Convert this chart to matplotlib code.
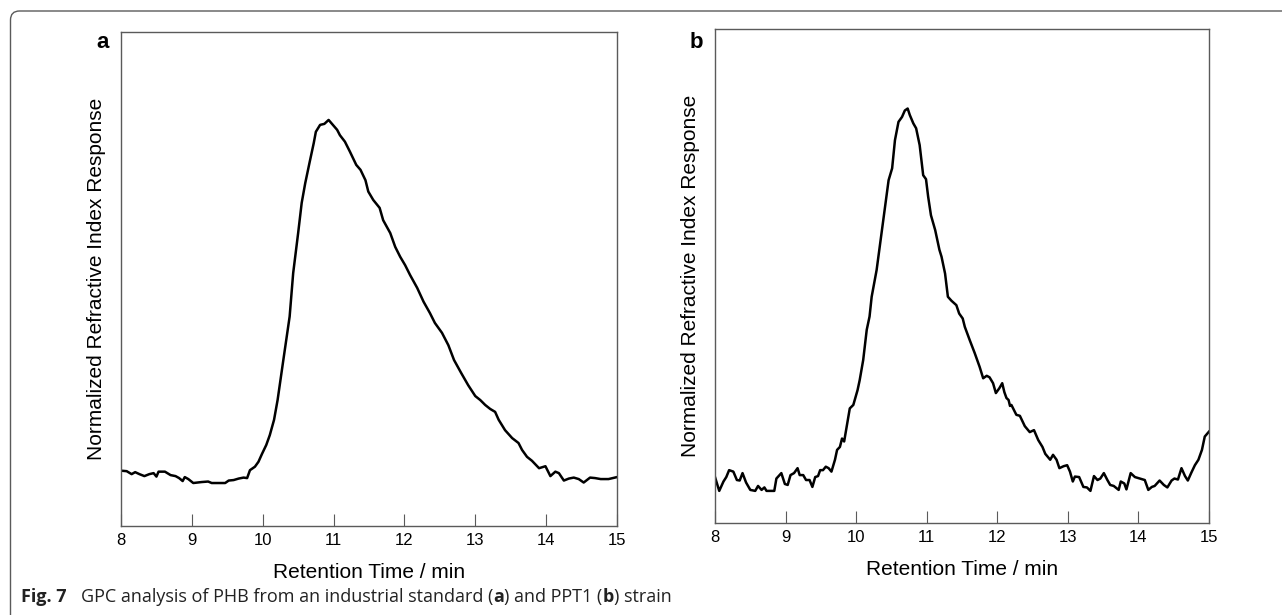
import numpy as np
import matplotlib
matplotlib.use("Agg")
import matplotlib.pyplot as plt
from matplotlib.path import Path
from matplotlib.patches import PathPatch

plt.rcParams['font.family'] = ['Liberation Sans', 'DejaVu Sans']

# Panel a: industrial PHB standard (time in min, normalized RI response)
time_a = [8.00, 8.08, 8.15, 8.20, 8.26, 8.33, 8.40, 8.46, 8.50, 8.53, 8.62, 8.70,
          8.77, 8.82, 8.87, 8.90, 8.95, 9.02, 9.14, 9.23, 9.28, 9.47, 9.52, 9.59,
          9.66, 9.73, 9.78, 9.82, 9.89, 9.94, 9.99, 10.05, 10.10, 10.16, 10.21, 10.29,
          10.38, 10.43, 10.50, 10.55, 10.60, 10.66, 10.72, 10.75, 10.81, 10.87, 10.93, 10.99,
          11.05, 11.09, 11.16, 11.23, 11.32, 11.38, 11.45, 11.49, 11.56, 11.65, 11.70, 11.80,
          11.87, 11.94, 12.01, 12.08, 12.18, 12.27, 12.36, 12.43, 12.53, 12.62, 12.70, 12.80,
          12.90, 13.00, 13.07, 13.14, 13.21, 13.28, 13.33, 13.42, 13.52, 13.61, 13.66, 13.73,
          13.80, 13.90, 13.99, 14.06, 14.13, 14.18, 14.25, 14.32, 14.39, 14.46, 14.53, 14.62,
          14.69, 14.77, 14.88, 15.00]
resp_a = [0.112, 0.111, 0.105, 0.109, 0.105, 0.101, 0.105, 0.107, 0.100, 0.110, 0.110, 0.103,
          0.101, 0.097, 0.091, 0.099, 0.095, 0.087, 0.089, 0.090, 0.087, 0.087, 0.092, 0.093,
          0.096, 0.098, 0.097, 0.113, 0.120, 0.130, 0.146, 0.164, 0.184, 0.215, 0.255, 0.335,
          0.424, 0.512, 0.593, 0.654, 0.694, 0.735, 0.775, 0.798, 0.812, 0.814, 0.822, 0.812,
          0.802, 0.791, 0.778, 0.758, 0.731, 0.721, 0.700, 0.677, 0.660, 0.644, 0.619, 0.593,
          0.565, 0.545, 0.528, 0.508, 0.482, 0.454, 0.431, 0.411, 0.391, 0.366, 0.336, 0.310,
          0.285, 0.263, 0.255, 0.245, 0.237, 0.231, 0.215, 0.194, 0.178, 0.168, 0.154, 0.140,
          0.132, 0.117, 0.121, 0.101, 0.110, 0.107, 0.092, 0.096, 0.098, 0.095, 0.088, 0.098,
          0.097, 0.095, 0.095, 0.099]

# Panel b: PPT1 strain
time_b = [8.00, 8.06, 8.12, 8.16, 8.20, 8.26, 8.31, 8.35, 8.39, 8.44, 8.50, 8.57,
          8.61, 8.66, 8.70, 8.73, 8.84, 8.87, 8.94, 8.99, 9.03, 9.07, 9.12, 9.17,
          9.20, 9.25, 9.29, 9.34, 9.38, 9.42, 9.46, 9.49, 9.53, 9.57, 9.61, 9.65,
          9.70, 9.73, 9.77, 9.80, 9.83, 9.87, 9.91, 9.96, 10.02, 10.05, 10.10, 10.15,
          10.19, 10.22, 10.29, 10.34, 10.41, 10.46, 10.51, 10.55, 10.60, 10.65, 10.69, 10.73,
          10.76, 10.81, 10.85, 10.90, 10.93, 10.95, 10.99, 11.02, 11.06, 11.12, 11.18, 11.21,
          11.26, 11.30, 11.35, 11.42, 11.46, 11.51, 11.54, 11.61, 11.68, 11.75, 11.80, 11.85,
          11.89, 11.94, 11.98, 12.03, 12.07, 12.10, 12.13, 12.16, 12.18, 12.20, 12.27, 12.32,
          12.39, 12.46, 12.52, 12.58, 12.64, 12.68, 12.75, 12.79, 12.84, 12.88, 12.94, 12.99,
          13.03, 13.07, 13.10, 13.16, 13.22, 13.27, 13.32, 13.37, 13.42, 13.46, 13.51, 13.56,
          13.60, 13.65, 13.72, 13.75, 13.80, 13.83, 13.89, 13.95, 14.02, 14.09, 14.14, 14.19,
          14.23, 14.30, 14.36, 14.41, 14.47, 14.51, 14.56, 14.61, 14.66, 14.70, 14.75, 14.80,
          14.85, 14.90, 14.94, 15.00]
resp_b = [0.093, 0.065, 0.084, 0.093, 0.107, 0.104, 0.087, 0.086, 0.101, 0.082, 0.067, 0.065,
          0.075, 0.067, 0.072, 0.065, 0.065, 0.090, 0.101, 0.079, 0.077, 0.097, 0.101, 0.111,
          0.097, 0.097, 0.087, 0.087, 0.073, 0.093, 0.095, 0.107, 0.107, 0.114, 0.111, 0.104,
          0.128, 0.148, 0.154, 0.171, 0.165, 0.198, 0.232, 0.239, 0.269, 0.289, 0.330, 0.391,
          0.418, 0.458, 0.512, 0.566, 0.640, 0.694, 0.718, 0.775, 0.812, 0.822, 0.835, 0.839,
          0.826, 0.809, 0.799, 0.765, 0.728, 0.704, 0.696, 0.661, 0.623, 0.593, 0.553, 0.539,
          0.505, 0.458, 0.450, 0.441, 0.424, 0.414, 0.397, 0.370, 0.344, 0.316, 0.293, 0.298,
          0.295, 0.283, 0.263, 0.273, 0.283, 0.265, 0.253, 0.249, 0.237, 0.239, 0.219, 0.217,
          0.196, 0.184, 0.188, 0.168, 0.154, 0.140, 0.128, 0.138, 0.128, 0.111, 0.115, 0.117,
          0.104, 0.084, 0.094, 0.093, 0.073, 0.072, 0.065, 0.095, 0.087, 0.090, 0.101, 0.087,
          0.077, 0.075, 0.067, 0.084, 0.080, 0.068, 0.101, 0.093, 0.090, 0.087, 0.067, 0.073,
          0.075, 0.086, 0.077, 0.072, 0.086, 0.090, 0.088, 0.111, 0.095, 0.086, 0.102, 0.117,
          0.128, 0.148, 0.175, 0.185]

x_ticks = [8, 9, 10, 11, 12, 13, 14, 15]
x_label = "Retention Time / min"
y_label = "Normalized Refractive Index Response"

W, H = 1282, 615
fig = plt.figure(figsize=(W / 100, H / 100), dpi=100)

frame_col = '#5a5a5a'
panels = [
    ("a", time_a, resp_a, (121, 32, 617, 526)),
    ("b", time_b, resp_b, (715, 29, 1209, 523)),
]

for letter, t, r, (l, top, rgt, bot) in panels:
    ax = fig.add_axes([l / W, 1 - bot / H, (rgt - l) / W, (bot - top) / H])
    ax.plot(t, r, color='black', lw=1.8, solid_joinstyle='round')
    ax.set_xlim(8, 15)
    ax.set_ylim(0, 1)
    ax.set_xticks(x_ticks)
    ax.set_xticklabels([str(v) for v in x_ticks])
    ax.set_yticks([])
    ax.tick_params(axis='x', direction='in', length=8.5, width=0.8, color=frame_col,
                   labelsize=12, pad=5)
    for s in ax.spines.values():
        s.set_color(frame_col)
        s.set_linewidth(1.0)
    ax.set_xlabel(x_label, fontsize=15, labelpad=11)
    ax.set_ylabel(y_label, fontsize=15, labelpad=11)
    fig.text((l - 12) / W, 1 - 43 / H, letter, fontsize=16, fontweight='bold',
             ha='right', va='center')

# journal frame: left and top edges with rounded corner
x0, y1, rad = 10.5 / W, 1 - 11 / H, 9
verts = [(x0, 0), (x0, y1 - rad / H), (x0, y1), (x0 + rad / W, y1), (1.0, y1)]
codes = [Path.MOVETO, Path.LINETO, Path.CURVE3, Path.CURVE3, Path.LINETO]
fig.add_artist(PathPatch(Path(verts, codes), transform=fig.transFigure,
                         fill=False, edgecolor=frame_col, lw=1.0))

# caption with bold pieces
cap_font = ['Open Sans', 'DejaVu Sans']
fig.text(21 / W, 1 - 602 / H, "Fig. 7", fontsize=13, fontweight='bold',
         family=cap_font, color='#222222', va='baseline', ha='left')
pieces = [("GPC analysis of PHB from an industrial standard (", 'normal'),
          ("a", 'bold'), (") and PPT1 (", 'normal'), ("b", 'bold'), (") strain", 'normal')]
renderer = fig.canvas.get_renderer()
xpos = 81
for txt, wt in pieces:
    tx = fig.text(xpos / W, 1 - 602 / H, txt, fontsize=13.0, fontweight=wt,
                  family=cap_font, color='#222222', va='baseline', ha='left')
    bb = tx.get_window_extent(renderer=renderer)
    xpos += bb.width

fig.savefig("out.png", dpi=100)
